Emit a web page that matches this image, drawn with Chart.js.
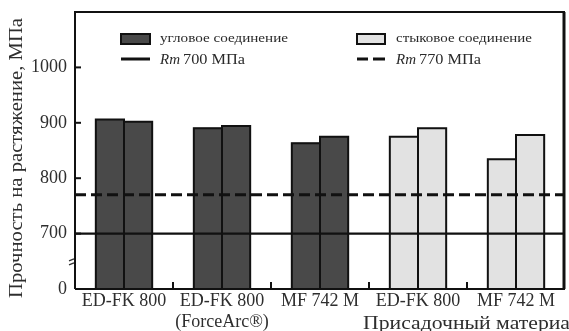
<!DOCTYPE html>
<html><head><meta charset="utf-8">
<script src="https://cdn.jsdelivr.net/npm/chart.js@4/dist/chart.umd.min.js"></script>
<style>html,body{margin:0;padding:0;background:#fff}#wrap{width:569px;height:331px}</style>
</head><body><div id="wrap"><canvas id="c" width="569" height="331"></canvas></div>
<script>
const categories = [["ED-FK 800"], ["ED-FK 800", "(ForceArc®)"], ["MF 742 M"], ["ED-FK 800"], ["MF 742 M"]];
const jointType = ["angle", "angle", "angle", "butt", "butt"];
const firstSpecimen = [906, 890, 863, 875, 834];
const secondSpecimen = [902, 894, 875, 890, 878];
const rmLow = 700;
const rmHigh = 770;
const axisMin = 600, axisMax = 1100, axisStep = 100;
const breakValue = 600; // shown as "0" (broken axis)
const legendAngle = "угловое соединение";
const legendButt = "стыковое соединение";
const legendRmLow = "700 МПа";
const legendRmHigh = "770 МПа";
const yTitle = "Прочность на растяжение, МПа";
const xTitle = "Присадочный материал";

const SERIF = "'Liberation Serif', 'Times New Roman', Times, serif";
const DARK = "#494949", LIGHT = "#e2e2e2", INK = "#111", TXT = "#2e2e2e";
const fillFor = t => t === "angle" ? DARK : LIGHT;

function stretchText(ctx, text, x, y, font, targetW, align) {
  ctx.save();
  ctx.font = font;
  const w = ctx.measureText(text).width;
  const s = targetW ? targetW / w : 1;
  ctx.translate(x, y);
  ctx.scale(s, 1);
  ctx.textAlign = align || "left";
  ctx.fillText(text, 0, 0);
  ctx.restore();
}

const decor = {
  id: "decor",
  afterDatasetsDraw(chart) {
    const ctx = chart.ctx, a = chart.chartArea;
    const y = chart.scales.y, x = chart.scales.x;
    ctx.save();
    // bar outlines (shared edges)
    ctx.strokeStyle = INK;
    ctx.lineWidth = 2;
    chart.data.datasets.forEach((ds, di) => {
      chart.getDatasetMeta(di).data.forEach(el => {
        const l = el.x - el.width / 2, r = el.x + el.width / 2;
        ctx.beginPath();
        ctx.moveTo(l, a.bottom); ctx.lineTo(l, el.y); ctx.lineTo(r, el.y); ctx.lineTo(r, a.bottom);
        ctx.stroke();
      });
    });
    // reference lines
    ctx.lineWidth = 2.2;
    let py = y.getPixelForValue(rmLow);
    ctx.beginPath(); ctx.moveTo(a.left, py); ctx.lineTo(a.right, py); ctx.stroke();
    py = y.getPixelForValue(rmHigh);
    ctx.lineWidth = 3;
    ctx.setLineDash([11, 5]);
    ctx.beginPath(); ctx.moveTo(a.left, py); ctx.lineTo(a.right, py); ctx.stroke();
    ctx.setLineDash([]);
    // frame
    ctx.lineWidth = 2;
    ctx.beginPath();
    ctx.moveTo(a.left, a.bottom); ctx.lineTo(a.left, a.top); ctx.lineTo(a.right, a.top);
    ctx.moveTo(a.left, a.bottom); ctx.lineTo(a.right, a.bottom);
    ctx.stroke();
    ctx.lineWidth = 3;
    ctx.beginPath(); ctx.moveTo(a.right - 1, a.top); ctx.lineTo(a.right - 1, a.bottom); ctx.stroke();
    // y inward ticks
    ctx.lineWidth = 2;
    for (let v = axisMin + axisStep; v < axisMax; v += axisStep) {
      const p = y.getPixelForValue(v);
      ctx.beginPath(); ctx.moveTo(a.left, p); ctx.lineTo(a.left + 6, p); ctx.stroke();
    }
    // x inward minor ticks at category boundaries
    const n = categories.length;
    for (let i = 1; i < n; i++) {
      const p = (x.getPixelForValue(i - 1) + x.getPixelForValue(i)) / 2;
      ctx.beginPath(); ctx.moveTo(p, a.bottom); ctx.lineTo(p, a.bottom - 7); ctx.stroke();
    }
    // axis break mark (left of the axis)
    const bp = y.getPixelForValue(breakValue + 0.49 * (rmLow - breakValue));
    ctx.strokeStyle = "#333";
    ctx.lineWidth = 1.4;
    for (const d of [-2, 2]) {
      ctx.beginPath(); ctx.moveTo(a.left - 6, bp + d + 1); ctx.lineTo(a.left - 1, bp + d - 1); ctx.stroke();
    }
    ctx.restore();
  },
  afterDraw(chart) {
    const ctx = chart.ctx;
    ctx.save();
    ctx.textBaseline = "middle";
    // legend
    ctx.lineWidth = 2; ctx.strokeStyle = INK;
    ctx.fillStyle = DARK; ctx.fillRect(121, 34, 29, 10); ctx.strokeRect(121, 34, 29, 10);
    ctx.fillStyle = LIGHT; ctx.fillRect(357, 34, 28, 10); ctx.strokeRect(357, 34, 28, 10);
    ctx.lineWidth = 3;
    ctx.beginPath(); ctx.moveTo(121, 59); ctx.lineTo(150, 59); ctx.stroke();
    ctx.beginPath(); ctx.moveTo(357, 59); ctx.lineTo(368, 59); ctx.moveTo(373, 59); ctx.lineTo(385, 59); ctx.stroke();
    ctx.fillStyle = "#2a2a2a";
    stretchText(ctx, legendAngle, 160, 39, "13px " + SERIF, 128);
    stretchText(ctx, legendButt, 396, 39, "13px " + SERIF, 136);
    stretchText(ctx, "Rm", 160, 60, "italic 15px " + SERIF, 20);
    stretchText(ctx, legendRmLow, 183, 60, "15px " + SERIF, 62);
    stretchText(ctx, "Rm", 396, 60, "italic 15px " + SERIF, 20);
    stretchText(ctx, legendRmHigh, 419, 60, "15px " + SERIF, 62);
    // axis titles
    ctx.fillStyle = TXT;
    ctx.save();
    ctx.translate(17, 158);
    ctx.rotate(-Math.PI / 2);
    stretchText(ctx, yTitle, 0, 0, "18px " + SERIF, 280, "center");
    ctx.restore();
    stretchText(ctx, xTitle, 363, 324, "18px " + SERIF, 218);
    ctx.restore();
  }
};

new Chart(document.getElementById("c"), {
  type: "bar",
  data: {
    labels: categories,
    datasets: [
      { label: "1", data: firstSpecimen, backgroundColor: jointType.map(fillFor), borderWidth: 0, inflateAmount: 0.5 },
      { label: "2", data: secondSpecimen, backgroundColor: jointType.map(fillFor), borderWidth: 0, inflateAmount: 0.5 }
    ]
  },
  options: {
    responsive: false,
    animation: false,
    devicePixelRatio: 1,
    layout: { padding: { left: 0, right: 4, top: 12, bottom: 0 } },
    datasets: { bar: { categoryPercentage: 0.575, barPercentage: 1.0 } },
    plugins: { legend: { display: false }, tooltip: { enabled: false } },
    scales: {
      x: {
        grid: { display: false, drawTicks: false },
        border: { display: false },
        ticks: { color: TXT, font: { family: SERIF, size: 18, lineHeight: 1.15 }, padding: 2, maxRotation: 0, autoSkip: false },
        afterFit(s) { s.height = 42; s.paddingLeft = 0; s.paddingRight = 0; }
      },
      y: {
        min: axisMin, max: axisMax,
        grid: { display: false, drawTicks: false },
        border: { display: false },
        ticks: {
          stepSize: axisStep, color: TXT, padding: 8,
          font: { family: SERIF, size: 18 },
          callback: v => v === breakValue ? "0" : (v >= axisMax ? "" : String(v))
        },
        afterFit(s) { s.width = 75; s.paddingTop = 0; s.paddingBottom = 0; }
      }
    }
  },
  plugins: [decor]
});
</script></body></html>
